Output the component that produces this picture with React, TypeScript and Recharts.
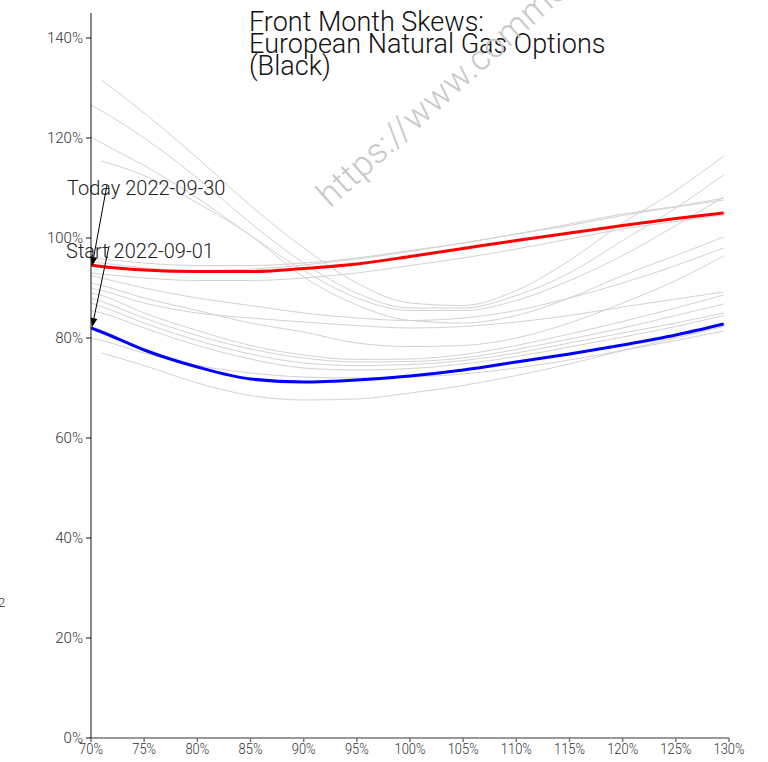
import React from 'react';
import { LineChart, Line, XAxis, YAxis, ReferenceLine } from 'recharts';

const STRIKES = [70, 71, 75, 80, 85, 90, 95, 100, 105, 110, 115, 120, 125, 129.5];

const TODAY = [94.6, 94.3, 93.6, 93.3, 93.3, 93.9, 94.8, 96.3, 97.9, 99.5, 101.0, 102.5, 103.9, 105.0];
const START = [82.0, 81.2, 77.6, 74.2, 71.8, 71.2, 71.6, 72.4, 73.6, 75.2, 76.8, 78.6, 80.6, 82.8];

const HIST_A1 = [null, 131.6, 125, 116, 106.5, 98, 91, 87, 86.5, 89.5, 95.5, 103, 109.5, 116.4];
const HIST_A2 = [126.6, 125.4, 120, 112, 103, 95, 89, 86, 86, 88.5, 93, 99.5, 106, 112.6];
const HIST_A3 = [120.2, 119, 114.5, 108, 100.5, 93.5, 88, 85.5, 85.5, 87.5, 91.5, 96.5, 102.5, 108.2];
const HIST_A4 = [null, 115.4, 112.5, 107, 100.5, 92.2, 86.6, 83.5, 83, 84.5, 88, 92.5, 96.5, 100.2];
const HIST_B1 = [96, 95.8, 95, 94.5, 94.5, 95, 96, 97.5, 99, 100.8, 102.5, 104.5, 106.2, 107.6];
const HIST_B2 = [95.2, 95, 94, 93.5, 93.8, 94.6, 95.8, 97.3, 99, 100.8, 102.8, 104.8, 106.3, 108];
const HIST_B3 = [93, 92.8, 92, 91.5, 91.5, 92, 93, 94.5, 96, 97.8, 99.8, 101.8, 103.3, 104.6];
const HIST_C1 = [92.5, 92, 90, 88, 86.5, 85, 84, 83.5, 84, 85.5, 88, 91, 94.5, 98];
const HIST_C2 = [91, 90.5, 88, 85.5, 83, 81.2, 79, 78.3, 78.5, 80, 83, 87, 91.5, 96.4];
const HIST_D1 = [90, 89.5, 87, 85, 84, 83.2, 82.5, 82, 82.3, 83.2, 84.5, 86.2, 87.8, 89.2];
const HIST_D2 = [89, 88.5, 85, 81.5, 78.5, 76.6, 75.7, 75.8, 76.7, 78.5, 80.8, 83.3, 86, 88.6];
const HIST_D3 = [88, 87.3, 84, 80.5, 77.8, 76, 75.2, 75.3, 76, 77.7, 79.8, 82, 84.5, 86.8];
const HIST_D4 = [87, 86.3, 83, 79.5, 76.8, 75, 74.5, 74.7, 75.5, 77, 79, 81, 83, 85];
const HIST_D5 = [85.5, 85, 82, 78.5, 75.8, 74, 73.6, 73.9, 74.8, 76.3, 78.2, 80.2, 82.3, 84.5];
const HIST_D6 = [80, 79.5, 77, 74.5, 73, 72.2, 72, 72.2, 72.8, 74, 75.6, 77.5, 79.5, 81.4];
const HIST_D7 = [null, 77, 74.5, 71, 68.5, 67.6, 67.8, 69, 70.5, 72.5, 74.8, 77.5, 80, 82.3];

const HISTORY = [HIST_A1, HIST_A2, HIST_A3, HIST_A4, HIST_B1, HIST_B2, HIST_B3, HIST_C1, HIST_C2,
  HIST_D1, HIST_D2, HIST_D3, HIST_D4, HIST_D5, HIST_D6, HIST_D7];

const X_TICKS = [70, 75, 80, 85, 90, 95, 100, 105, 110, 115, 120, 125, 130];
const Y_TICKS = [0, 20, 40, 60, 80, 100, 120, 140];

const TODAY_LABEL = 'Today 2022-09-30';
const START_LABEL = 'Start 2022-09-01';
const TODAY_ARROW = [{ x: 71.5, y: 110.6 }, { x: 70.1, y: 94.4 }];
const START_ARROW = [{ x: 71.7, y: 98.4 }, { x: 70.1, y: 82.2 }];

const TITLE_LINES = ['Front Month Skews:', 'European Natural Gas Options', '(Black)'];
const WATERMARK = 'https://www.commodities-scenario.com';

const rows = STRIKES.map((s, i) => {
  const r: any = { strike: s, today: TODAY[i], start: START[i] };
  HISTORY.forEach((h, j) => { r['h' + j] = h[i]; });
  return r;
});

const FONT = 'Roboto, "Noto Sans", sans-serif';

const makeArrow = (label: string, dx: number, dy: number) => (props: any) => {
  const { x1, y1, x2, y2 } = props;
  if ([x1, y1, x2, y2].some((v) => typeof v !== 'number' || isNaN(v))) return <g />;
  const ang = Math.atan2(y2 - y1, x2 - x1);
  const L = 9, W = 3.5;
  const bx = x2 - L * Math.cos(ang), by = y2 - L * Math.sin(ang);
  const p1 = `${x2},${y2}`;
  const p2 = `${bx + W * Math.sin(ang)},${by - W * Math.cos(ang)}`;
  const p3 = `${bx - W * Math.sin(ang)},${by + W * Math.cos(ang)}`;
  return (
    <g>
      <text x={x1 + dx} y={y1 + dy} fontSize={20} fontFamily={FONT} fontWeight={300} fill="#222">{label}</text>
      <line x1={x1} y1={y1} x2={bx} y2={by} stroke="#000" strokeWidth={1} />
      <polygon points={`${p1} ${p2} ${p3}`} fill="#000" />
    </g>
  );
};

const XTick = (props: any) => {
  const { x, y, payload } = props;
  return (
    <g transform={`translate(${x},${y}) scale(0.86,1)`}>
      <text x={0} y={0} dy="0.71em" textAnchor="middle" fontSize={15} fontFamily={FONT} fontWeight={300} fill="#333">
        {`${payload.value}%`}
      </text>
    </g>
  );
};

export default function App() {
  return (
    <div style={{ position: 'absolute', left: 0, top: 0, width: 768, height: 762, background: '#fff', overflow: 'hidden' }}>
      <LineChart width={768} height={762} data={rows} margin={{ top: 13, right: 39, bottom: 0, left: 0 }}>
        <XAxis
          type="number"
          dataKey="strike"
          domain={[70, 130]}
          ticks={X_TICKS}
          height={24}
          tickSize={4}
          tickMargin={1}
          stroke="#777"
          strokeWidth={1.5}
          tick={<XTick />}
          allowDataOverflow
        />
        <YAxis
          type="number"
          domain={[0, 145]}
          ticks={Y_TICKS}
          tickFormatter={(v: number) => `${v}%`}
          width={91}
          tickSize={5}
          tickMargin={3}
          stroke="#111"
          tick={{ fontSize: 15, fontFamily: FONT, fontWeight: 300, fill: '#333' }}
          allowDataOverflow
        />
        {HISTORY.map((_, j) => (
          <Line key={j} type="monotone" dataKey={'h' + j} stroke="#d2d2d2" strokeWidth={1} dot={false}
            isAnimationActive={false} connectNulls={false} />
        ))}
        <Line type="monotone" dataKey="today" stroke="#ff0000" strokeWidth={3} dot={false} isAnimationActive={false} />
        <Line type="monotone" dataKey="start" stroke="#0000ff" strokeWidth={3} dot={false} isAnimationActive={false} />
        <ReferenceLine segment={TODAY_ARROW} ifOverflow="visible" shape={makeArrow(TODAY_LABEL, -40, 10)} />
        <ReferenceLine segment={START_ARROW} ifOverflow="visible" shape={makeArrow(START_LABEL, -43, 12)} />
      </LineChart>
      <div style={{ position: 'absolute', left: 249, top: 11, fontFamily: FONT, fontWeight: 300, fontSize: 27, lineHeight: '22px', color: '#111', whiteSpace: 'nowrap' }}>
        {TITLE_LINES.map((t) => <div key={t}>{t}</div>)}
      </div>
      <div style={{ position: 'absolute', left: 334, top: 178, fontFamily: FONT, fontWeight: 300, fontSize: 35, letterSpacing: '0.5px', color: '#c8c8c8', whiteSpace: 'nowrap', transform: 'rotate(-42deg)', transformOrigin: '0 100%', lineHeight: '35px' }}>
        {WATERMARK}
      </div>
      <div style={{ position: 'absolute', left: -2, top: 595, fontFamily: FONT, fontWeight: 300, fontSize: 13, color: '#333' }}>2</div>
    </div>
  );
}
